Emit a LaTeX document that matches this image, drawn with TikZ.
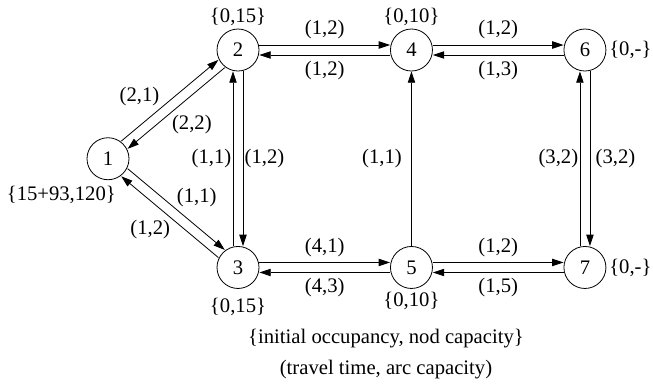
\documentclass[tikz,border=0pt]{standalone}
\usepackage{fontspec}
\setmainfont{Liberation Serif}
\usetikzlibrary{arrows.meta,positioning,calc}

\begin{document}
\begin{tikzpicture}[
  x=0.75pt, y=-0.75pt,
  font=\fontsize{15.5}{18}\selectfont,
  node distance=131pt and 98pt,
  stn/.style={draw, circle, line width=0.6pt, minimum size=31.5pt, inner sep=0pt},
  arr/.style={-{Triangle[length=8.5pt,width=5.5pt]}, line width=0.6pt},
  cost/.style={inner sep=1pt},
  every label/.style={inner sep=2pt},
  sU/.style={transform canvas={yshift=3.75pt}},
  sD/.style={transform canvas={yshift=-3.75pt}},
  sL/.style={transform canvas={xshift=-3.75pt}},
  sR/.style={transform canvas={xshift=3.75pt}},
  sUL/.style={transform canvas={shift={(-2.4pt,2.88pt)}}},
  sDR/.style={transform canvas={shift={(2.4pt,-2.88pt)}}},
  sUR/.style={transform canvas={shift={(2.4pt,2.88pt)}}},
  sDL/.style={transform canvas={shift={(-2.4pt,-2.88pt)}}}
]
\useasboundingbox (0,0) rectangle (653,390);

% stations
\node[stn, label=above:{\{0,15\}}] (n2) at (238,50) {2};
\node[stn, right=of n2, label=above:{\{0,10\}}] (n4) {4};
\node[stn, right=of n4, label=right:{\{0,-\}}] (n6) {6};
\node[stn, below=of n2, label={[label distance=5pt]below:{\{0,15\}}}] (n3) {3};
\node[stn, below=of n4, label=below:{\{0,10\}}] (n5) {5};
\node[stn, below=of n6, label=right:{\{0,-\}}] (n7) {7};
\node[stn, label={[xshift=-35pt,label distance=2pt]below:{\{15+93,120\}}}]
  (n1) at ($(n2)!.5!(n3)+(-97.5pt,0)$) {1};

% arcs
\draw[arr,sUL] (n1) -- node[cost,above left,pos=.41]{(2,1)} (n2);
\draw[arr,sDR] (n2) -- node[cost,below right,pos=.56]{(2,2)} (n1);
\draw[arr,sUR] (n1) -- node[cost,above right,pos=.49]{(1,1)} (n3);
\draw[arr,sDL] (n3) -- node[cost,below left,pos=.48]{(1,2)} (n1);
\draw[arr,sL] (n3) -- node[cost,left]{(1,1)} (n2);
\draw[arr,sR] (n2) -- node[cost,right]{(1,2)} (n3);
\draw[arr,sU] (n2) -- node[cost,above=3pt]{(1,2)} (n4);
\draw[arr,sD] (n4) -- node[cost,below=3pt]{(1,2)} (n2);
\draw[arr,sU] (n4) -- node[cost,above=3pt]{(1,2)} (n6);
\draw[arr,sD] (n6) -- node[cost,below=3pt]{(1,3)} (n4);
\draw[arr] (n5) -- node[cost,left=6pt]{(1,1)} (n4);
\draw[arr,sL] (n7) -- node[cost,left]{(3,2)} (n6);
\draw[arr,sR] (n6) -- node[cost,right=3pt]{(3,2)} (n7);
\draw[arr,sU] (n3) -- node[cost,above=3pt]{(4,1)} (n5);
\draw[arr,sD] (n5) -- node[cost,below=3pt]{(4,3)} (n3);
\draw[arr,sU] (n5) -- node[cost,above=3pt]{(1,2)} (n7);
\draw[arr,sD] (n7) -- node[cost,below=3pt]{(1,5)} (n5);

% legend
\node (occ) at (386,339) {\{initial occupancy, nod capacity\}};
\node (trv) at (386,370) {(travel time, arc capacity)};
\end{tikzpicture}
\end{document}
